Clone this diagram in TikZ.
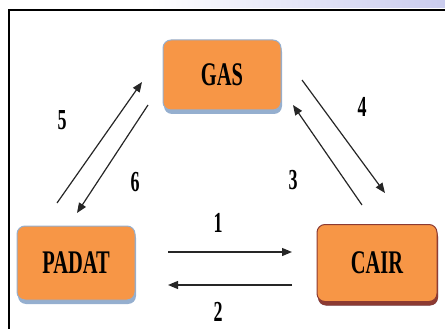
\documentclass[tikz,border=0pt]{standalone}
\usepackage{fontspec}
\setmainfont{Liberation Serif}
\usetikzlibrary{arrows.meta,shadows}
\definecolor{boxorange}{HTML}{F79646}
\definecolor{edgeblue}{HTML}{95AFCF}
\definecolor{edgered}{HTML}{8C3A32}
\definecolor{stripblue}{HTML}{CACCEE}
\newcommand{\narrowtext}[1]{\scalebox{0.62}[1]{#1}}
\tikzset{phase box/.style={rectangle,rounded corners=8pt,draw=edgeblue,line width=1pt,fill=boxorange,minimum width=118pt,minimum height=70pt,inner sep=0pt,font=\fontsize{33}{33}\selectfont\bfseries,drop shadow={shadow xshift=1pt,shadow yshift=-4pt,fill=edgeblue,opacity=1}}}
\tikzset{num label/.style={inner sep=0pt,font=\fontsize{29}{29}\selectfont\bfseries}}
\tikzset{trans/.style={-{Triangle[length=10pt,width=8pt]},line width=1.2pt,draw=black!85}}

\begin{document}
\begin{tikzpicture}[x=1pt,y=-1pt]
        \useasboundingbox (0,0) rectangle (445,329);
        \shade [left color=white,right color=stripblue] (150,0) rectangle (445,8);
        \draw [line width=1.5pt] (9,329) -- (9,10) -- (445,10);

        \node (gas)	[phase box] at	(222,75)	{\narrowtext{GAS}};
        \node (padat)	[phase box,minimum height=74pt] at	(76,263)	{\narrowtext{PADAT}};
        \node (cair)	[phase box,draw=edgered,minimum width=120pt,minimum height=77pt,drop shadow={shadow xshift=1pt,shadow yshift=-4pt,fill=edgered,opacity=1}] at	(377,263)	{\narrowtext{CAIR}};

        \coordinate (a1s) at (168,252);
        \coordinate (a1e) at (292,252);
        \coordinate (a2s) at (292,285);
        \coordinate (a2e) at (168,285);
        \coordinate (a3s) at (362,205);
        \coordinate (a3e) at (293,105);
        \coordinate (a4s) at (302,80);
        \coordinate (a4e) at (385,193);
        \coordinate (a5s) at (57,203);
        \coordinate (a5e) at (142,82);
        \coordinate (a6s) at (148,105);
        \coordinate (a6e) at (77,213);

        \draw [trans] (a1s) -- (a1e);
        \draw [trans] (a2s) -- (a2e);
        \draw [trans] (a3s) -- (a3e);
        \draw [trans] (a4s) -- (a4e);
        \draw [trans] (a5s) -- (a5e);
        \draw [trans] (a6s) -- (a6e);

        \node (n1) [num label] at (218,223) {\narrowtext{1}};
        \node (n2) [num label] at (218,312) {\narrowtext{2}};
        \node (n3) [num label] at (293,180) {\narrowtext{3}};
        \node (n4) [num label] at (362,107) {\narrowtext{4}};
        \node (n5) [num label] at (62,120) {\narrowtext{5}};
        \node (n6) [num label] at (135,182) {\narrowtext{6}};
\end{tikzpicture}
\end{document}
